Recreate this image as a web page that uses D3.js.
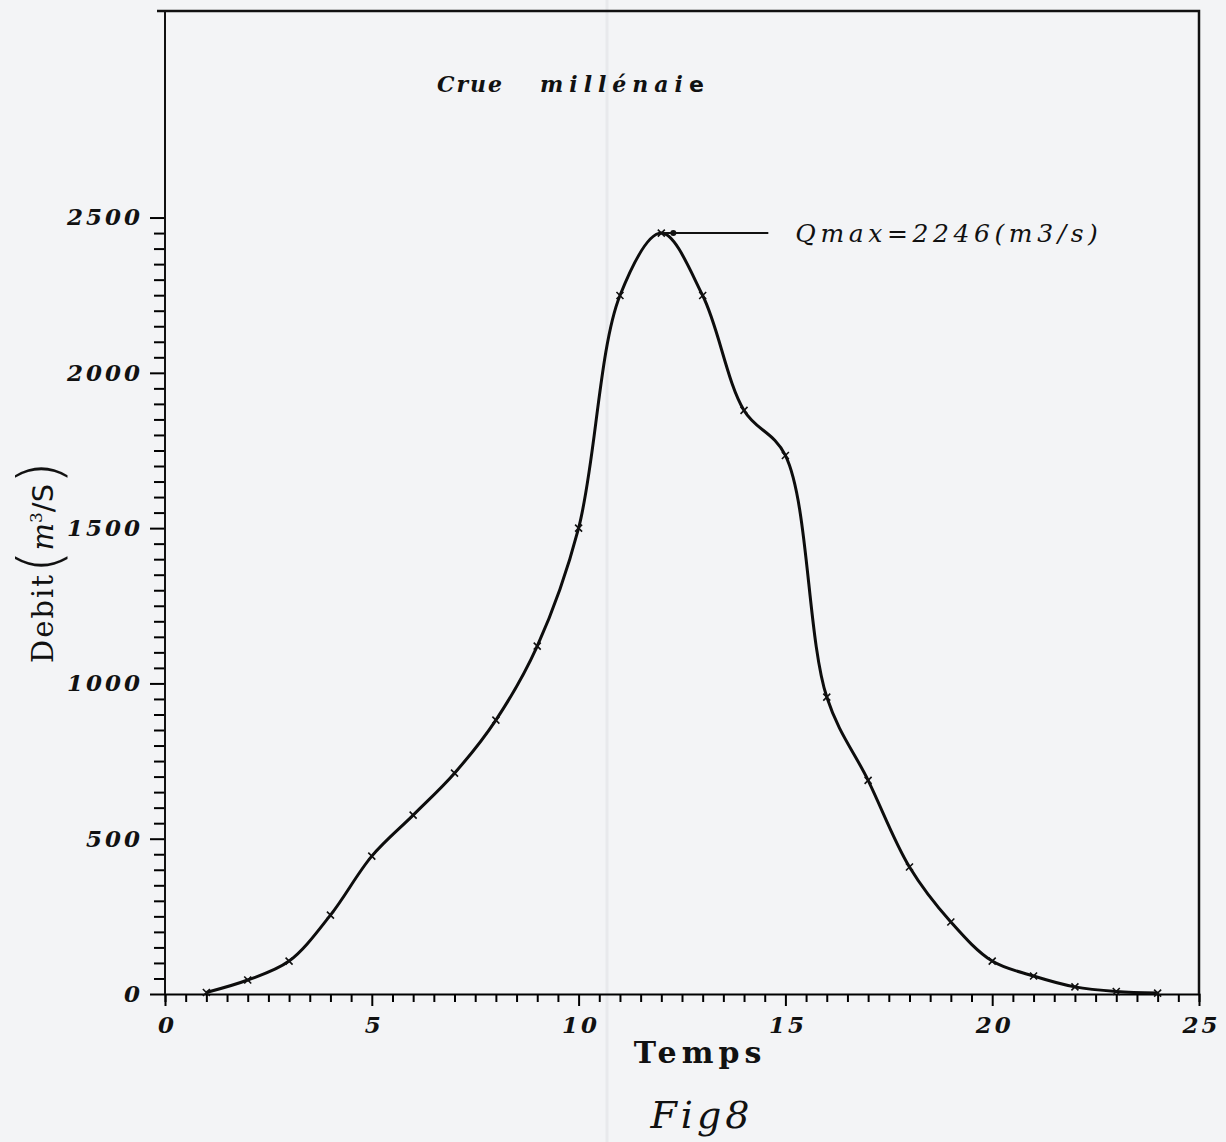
<!DOCTYPE html>
<html>
<head>
<meta charset="utf-8">
<script src="https://cdnjs.cloudflare.com/ajax/libs/d3/7.8.5/d3.min.js"></script>
<style>
  body { margin: 0; background: #f3f4f6; }
  svg { display: block; }
  .tick text { font-family: "DejaVu Serif", serif; font-style: italic; font-weight: bold; font-size: 23px; letter-spacing: 3px; fill: #111; }
</style>
</head>
<body>
<div id="chart"></div>
<script>
/* ********* data ********* */
var temps = [1, 2, 3, 4, 5, 6, 7, 8, 9, 10, 11, 12, 13, 14, 15, 16, 17, 18, 19, 20, 21, 22, 23, 24];
var debits = [5, 45, 106, 254, 444, 576, 711, 882, 1120, 1500, 2249, 2450, 2249, 1879, 1734, 956, 688, 409, 232, 106, 58, 23, 8, 3];
var xTicks = [0, 5, 10, 15, 20, 25];
var yTicks = [0, 500, 1000, 1500, 2000, 2500];
var qmax = 2246;

var W = 1226, H = 1142;
var margin = { top: 11, right: 27, bottom: 148, left: 165 };

var svg = d3.select("#chart").append("svg")
  .attr("width", W)
  .attr("height", H);

svg.append("rect")
  .attr("width", W).attr("height", H)
  .attr("fill", "#f3f4f6");

// faint fold of the scanned page
svg.append("line")
  .attr("x1", 607).attr("x2", 607)
  .attr("y1", 0).attr("y2", H)
  .attr("stroke", "#e8e9ec").attr("stroke-width", 3);

var x = d3.scaleLinear()
  .domain([0, 25])
  .range([margin.left, W - margin.right]);

var y = d3.scaleLinear()
  .domain([0, 3165])
  .range([H - margin.bottom, margin.top]);

/* ********* axes ********* */
var xMinor = d3.range(0, 25.01, 0.5);
var xAxis = svg.append("g")
  .attr("transform", "translate(0," + y(0) + ")")
  .call(d3.axisBottom(x)
    .tickValues(xMinor)
    .tickSize(8)
    .tickPadding(9)
    .tickFormat(function(d) { return xTicks.indexOf(d) >= 0 ? d : ""; }));
xAxis.selectAll(".tick line")
  .attr("y2", function(d) { return xTicks.indexOf(d) >= 0 ? 12 : 8; })
  .attr("stroke-width", 2);
xAxis.selectAll(".tick text").attr("dx", "2px").attr("dy", "0.95em");
xAxis.select(".domain").attr("stroke-width", 2);

var yMinor = d3.range(0, 2501, 50);
var yAxis = svg.append("g")
  .attr("transform", "translate(" + x(0) + ",0)")
  .call(d3.axisLeft(y)
    .tickValues(yMinor)
    .tickSize(11)
    .tickPadding(12)
    .tickFormat(function(d) { return yTicks.indexOf(d) >= 0 ? d : ""; }));
yAxis.selectAll(".tick line")
  .attr("x2", function(d) { return yTicks.indexOf(d) >= 0 ? -15 : -11; })
  .attr("stroke-width", 2);
yAxis.selectAll(".tick text").attr("dx", "1px");
yAxis.select(".domain").remove();

// frame: left, top and right sides
svg.append("path")
  .attr("d", "M" + x(0) + "," + y(0) + "V" + y.range()[1])
  .attr("stroke", "#111").attr("stroke-width", 2).attr("fill", "none");
svg.append("path")
  .attr("d", "M" + (x(0) - 8) + "," + y.range()[1] + "H" + x(25) + "V" + y(0))
  .attr("stroke", "#111").attr("stroke-width", 2.5).attr("fill", "none");

/* ********* hydrograph ********* */
var pts = temps.map(function(t, i) { return [t, debits[i]]; });

var line = d3.line()
  .x(function(d) { return x(d[0]); })
  .y(function(d) { return y(d[1]); })
  .curve(d3.curveCatmullRom.alpha(0.5));

svg.append("path")
  .datum(pts)
  .attr("d", line)
  .attr("fill", "none")
  .attr("stroke", "#0d0d0d")
  .attr("stroke-width", 3);

svg.selectAll(".mark")
  .data(pts)
  .enter().append("path")
    .attr("class", "mark")
    .attr("d", function(d) {
      var cx = x(d[0]), cy = y(d[1]), s = 3.5;
      return "M" + (cx - s) + "," + (cy - s) + "L" + (cx + s) + "," + (cy + s) +
             "M" + (cx - s) + "," + (cy + s) + "L" + (cx + s) + "," + (cy - s);
    })
    .attr("stroke", "#111")
    .attr("stroke-width", 1.6);

/* ********* peak annotation ********* */
var peak = pts[d3.maxIndex(pts, function(d) { return d[1]; })];
var px = x(peak[0]), py = y(peak[1]);
svg.append("circle")
  .attr("cx", px + 12).attr("cy", py)
  .attr("r", 3).attr("fill", "#111");
svg.append("line")
  .attr("x1", px).attr("x2", px + 107)
  .attr("y1", py).attr("y2", py)
  .attr("stroke", "#111").attr("stroke-width", 2);
svg.append("text")
  .attr("x", px + 134).attr("y", py + 9)
  .style("font-family", "DejaVu Serif, serif")
  .style("font-style", "italic")
  .style("font-size", "25px")
  .style("letter-spacing", "4.6px")
  .attr("fill", "#111")
  .text("Qmax=" + qmax + "(m3/s)");

/* ********* labels ********* */
var title = svg.append("text")
  .attr("x", 437).attr("y", 92)
  .style("font-family", "DejaVu Serif, serif")
  .style("font-style", "italic")
  .style("font-weight", "bold")
  .style("font-size", "22px")
  .attr("fill", "#111");
title.append("tspan").style("letter-spacing", "2px").text("Crue");
title.append("tspan").attr("x", 540).style("letter-spacing", "6px").text("millénai");
title.append("tspan").style("font-style", "normal").style("font-family", "DejaVu Sans, sans-serif").text("e");

svg.append("text")
  .attr("x", 700).attr("y", 1063)
  .attr("text-anchor", "middle")
  .style("font-family", "DejaVu Serif, serif")
  .style("font-weight", "bold")
  .style("font-size", "30px")
  .style("letter-spacing", "5px")
  .attr("fill", "#111")
  .text("Temps");

svg.append("text")
  .attr("x", 702).attr("y", 1128)
  .attr("text-anchor", "middle")
  .style("font-family", "DejaVu Serif, serif")
  .style("font-style", "italic")
  .style("font-size", "38px")
  .style("letter-spacing", "4px")
  .attr("fill", "#111")
  .text("Fig8");

var ylab = svg.append("text")
  .attr("transform", "translate(53,663) rotate(-90)")
  .style("font-family", "DejaVu Serif, serif")
  .style("font-size", "29px")
  .attr("fill", "#111");
ylab.append("tspan").style("letter-spacing", "2px").text("Debit");
ylab.append("tspan").style("font-family", "DejaVu Sans, sans-serif").style("font-size", "58px").style("font-weight", "300").attr("dy", "7").text("(");
ylab.append("tspan").style("font-style", "italic").attr("dy", "-7").text("m");
ylab.append("tspan").style("font-size", "17px").attr("dy", "-11").text("3");
ylab.append("tspan").style("font-family", "DejaVu Sans, sans-serif").attr("dy", "11").text("/S");
ylab.append("tspan").style("font-family", "DejaVu Sans, sans-serif").style("font-size", "58px").style("font-weight", "300").attr("dy", "7").text(")");
</script>
</body>
</html>
